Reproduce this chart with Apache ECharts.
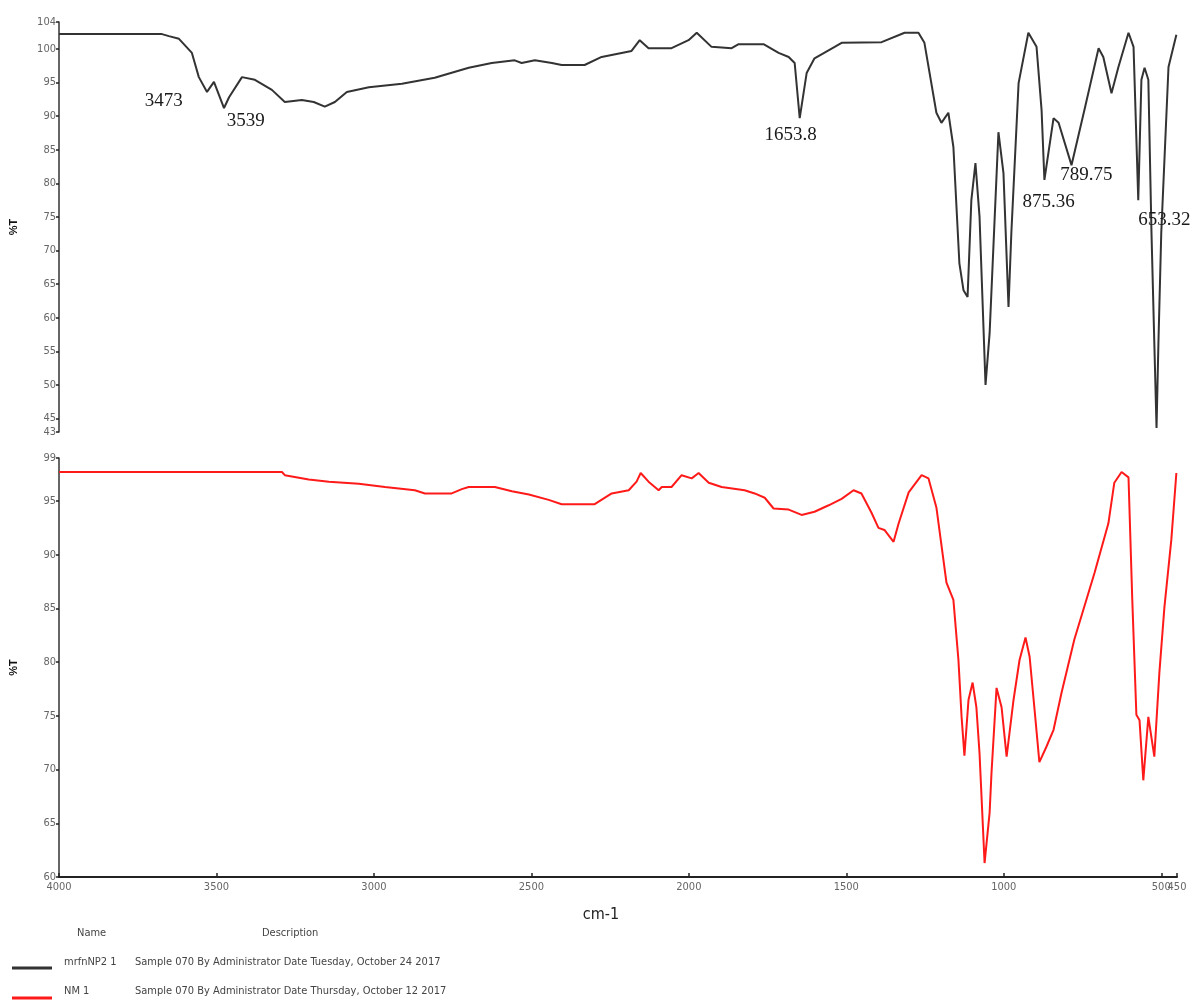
<!DOCTYPE html>
<html>
<head>
<meta charset="utf-8">
<script src="https://cdn.jsdelivr.net/npm/echarts@6/dist/echarts.min.js"></script>
<style>
html,body{margin:0;padding:0;background:#fff;}
#chart{width:1196px;height:1001px;}
</style>
</head>
<body>
<div id="chart"></div>
<script>
// Top spectrum (black): wavenumber (cm-1) and %T
const topWave = [4000,3673,3651,3619,3578,3556,3530,3508,3476,3460,3419,3378,3324,3283,3229,3191,3156,3124,3086,3016,2911,2807,2699,2626,2553,2531,2489,2435,2404,2331,2277,2182,2156,2128,2055,2001,1975,1928,1864,1842,1763,1715,1683,1664,1648,1626,1601,1537,1515,1388,1315,1271,1252,1214,1198,1176,1160,1141,1128,1115,1103,1090,1077,1058,1045,1017,1001,985,976,953,922,896,880,871,842,826,785,744,699,684,658,636,604,588,573,563,553,541,531,522,515,509,500,477,452];
const topT = [102.2,102.2,101.9,101.5,99.4,95.8,93.6,95.1,91.2,92.8,95.8,95.4,93.9,92.1,92.4,92.1,91.4,92.1,93.6,94.3,94.8,95.7,97.2,97.9,98.3,97.9,98.3,97.9,97.6,97.6,98.8,99.7,101.3,100.1,100.1,101.3,102.4,100.3,100.1,100.7,100.7,99.4,98.8,97.9,89.7,96.4,98.6,100.3,100.9,101.0,102.4,102.4,100.9,90.5,89.0,90.5,85.4,68.1,64.1,63.1,77.5,83.0,75.0,50.0,57.7,87.6,81.5,61.6,72.6,94.9,102.4,100.3,90.9,80.5,89.7,89.0,82.7,90.9,100.1,98.8,93.4,97.3,102.4,100.3,77.5,95.4,97.2,95.4,72.6,56.2,43.6,56.2,72.6,97.3,102.1];

// Bottom spectrum (red)
const botWave = [4000,3292,3283,3207,3143,3048,2965,2870,2838,2753,2721,2699,2616,2562,2508,2445,2404,2299,2245,2191,2166,2153,2128,2096,2086,2055,2023,1991,1969,1937,1896,1823,1791,1759,1731,1683,1642,1601,1556,1515,1477,1452,1420,1398,1379,1350,1334,1302,1261,1239,1214,1182,1160,1144,1134,1125,1112,1099,1087,1077,1061,1045,1039,1023,1007,991,969,950,931,918,903,887,865,842,817,776,712,668,649,626,604,592,579,569,557,541,522,506,490,468,452];
const botT = [97.7,97.7,97.4,97.0,96.8,96.6,96.3,96.0,95.7,95.7,96.1,96.3,96.3,95.9,95.6,95.1,94.7,94.7,95.7,96.0,96.8,97.6,96.8,96.0,96.3,96.3,97.4,97.1,97.6,96.7,96.3,96.0,95.7,95.3,94.3,94.2,93.7,94.0,94.6,95.2,96.0,95.7,93.9,92.5,92.3,91.2,92.9,95.8,97.4,97.1,94.4,87.4,85.8,80.2,74.9,71.3,76.5,78.1,75.8,71.5,61.3,66.0,69.7,77.6,75.8,71.2,76.5,80.2,82.3,80.5,75.8,70.7,72.1,73.7,77.1,82.1,88.3,92.9,96.7,97.7,97.2,85.8,75.1,74.6,69.0,74.9,71.2,79.0,85.1,91.4,97.6];

// Peak annotations on the top spectrum: [wavenumber, %T, text]
const peakLabelWave = [3667, 3407, 1677, 858, 738, 490];
const peakLabelT = [92.2, 89.3, 87.2, 77.2, 81.2, 74.5];
const peakLabelText = ['3473', '3539', '1653.8', '875.36', '789.75', '653.32'];

// Tick labels (450 is the axis end, drawn on its own so it is not dropped as overlapping 500)
const xTicks = [4000, 3500, 3000, 2500, 2000, 1500, 1000, 500];
const xEndTicks = [450];
const topYTicks = [43, 45, 50, 55, 60, 65, 70, 75, 80, 85, 90, 95, 100, 104];
const botYTicks = [60, 65, 70, 75, 80, 85, 90, 95, 99];

// Legend table
const legendNames = ['mrfnNP2 1', 'NM 1'];
const legendDescs = ['Sample 070 By Administrator Date Tuesday, October 24 2017',
                     'Sample 070 By Administrator Date Thursday, October 12 2017'];
const seriesColors = ['#333333', '#ff1a1a'];

const narrow = "'Liberation Sans Narrow','DejaVu Sans Condensed','Liberation Sans',sans-serif";

function zip(a, b) { return a.map((v, i) => [v, b[i]]); }

const chart = echarts.init(document.getElementById('chart'), null, {renderer: 'canvas'});

const yAxisBase = (min, max, ticks) => ({
  type: 'value', min: min, max: max,
  splitLine: {show: false},
  axisLine: {show: true, onZero: false, lineStyle: {color: '#333', width: 1.5}},
  axisTick: {show: true, length: 3, customValues: ticks, lineStyle: {color: '#222', width: 1.5}},
  axisLabel: {show: true, customValues: ticks, fontFamily: narrow, fontSize: 11, color: '#666', margin: 3,
    formatter: v => String(v), showMinLabel: true, showMaxLabel: true, hideOverlap: false},
  name: '%T', nameLocation: 'middle', nameRotate: 90, nameGap: 40,
  nameTextStyle: {fontFamily: 'Liberation Sans', fontWeight: 'bold', fontSize: 11, color: '#111'}
});

const xAxisBottom = (ticks, extra) => Object.assign({
  gridIndex: 1, type: 'value', position: 'bottom', offset: 0, min: 450, max: 4000, inverse: true,
  splitLine: {show: false},
  axisLine: {show: true, onZero: false, lineStyle: {color: '#222', width: 2}},
  axisTick: {show: true, inside: true, length: 4, customValues: ticks, lineStyle: {color: '#222', width: 1.5}},
  axisLabel: {show: true, customValues: ticks, fontFamily: narrow, fontSize: 11, color: '#666', margin: 5,
    hideOverlap: false, showMinLabel: true, showMaxLabel: true, formatter: v => String(v)}
}, extra);

const legendGraphics = [
  {type: 'text', left: 77, top: 928, style: {text: 'Name', font: '11px ' + narrow, fill: '#444'}},
  {type: 'text', left: 262, top: 928, style: {text: 'Description', font: '11px ' + narrow, fill: '#444'}}
];
legendNames.forEach((n, i) => {
  const y = 957 + i * 29;
  const ly = y + 11 + (i ? 1 : 0);
  legendGraphics.push({type: 'line', shape: {x1: 12, y1: ly, x2: 52, y2: ly}, style: {stroke: seriesColors[i], lineWidth: 3}});
  legendGraphics.push({type: 'text', left: 64, top: y, style: {text: n, font: '11px ' + narrow, fill: '#444'}});
  legendGraphics.push({type: 'text', left: 135, top: y, style: {text: legendDescs[i], font: '11px ' + narrow, fill: '#444'}});
});

const option = {
  animation: false,
  backgroundColor: '#ffffff',
  grid: [
    {left: 58, right: 19, top: 22, height: 410, containLabel: false},
    {left: 58, right: 19, top: 458, height: 419, containLabel: false}
  ],
  xAxis: [
    {gridIndex: 0, type: 'value', min: 450, max: 4000, inverse: true, show: false, splitLine: {show: false}},
    xAxisBottom(xTicks, {
      name: 'cm-1', nameLocation: 'middle', nameGap: 30,
      nameTextStyle: {fontFamily: narrow, fontSize: 16, color: '#222', padding: [0, 34, 0, 0]}
    }),
    xAxisBottom(xEndTicks, {axisLine: {show: false}})
  ],
  yAxis: [
    Object.assign({gridIndex: 0}, yAxisBase(43, 104, topYTicks)),
    Object.assign({gridIndex: 1}, yAxisBase(60, 99, botYTicks))
  ],
  series: [
    {
      name: legendNames[0], type: 'line', xAxisIndex: 0, yAxisIndex: 0,
      data: zip(topWave, topT), showSymbol: false, symbol: 'none', smooth: false,
      lineStyle: {color: seriesColors[0], width: 2}, silent: true,
      markPoint: {
        symbol: 'circle', symbolSize: 0, silent: true,
        label: {show: true, position: 'inside', formatter: p => p.name,
          fontFamily: "'Liberation Serif','Times New Roman',serif", fontSize: 19, color: '#1a1a1a'},
        data: peakLabelText.map((t, i) => ({name: t, coord: [peakLabelWave[i], peakLabelT[i]]}))
      }
    },
    {
      name: legendNames[1], type: 'line', xAxisIndex: 1, yAxisIndex: 1,
      data: zip(botWave, botT), showSymbol: false, symbol: 'none', smooth: false,
      lineStyle: {color: seriesColors[1], width: 2}, silent: true
    }
  ],
  graphic: legendGraphics
};

chart.setOption(option);
</script>
</body>
</html>
